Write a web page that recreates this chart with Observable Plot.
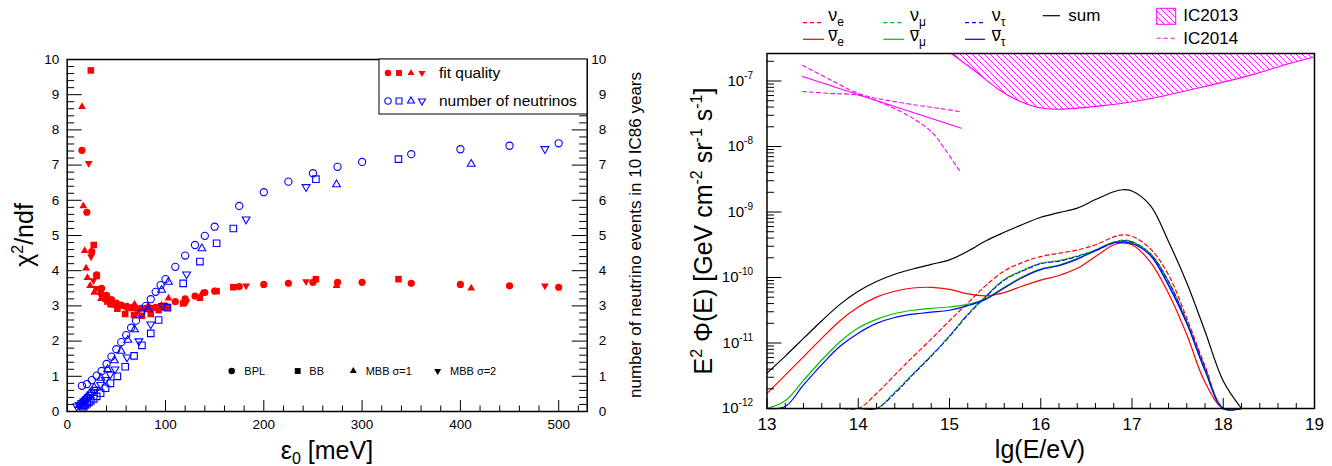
<!DOCTYPE html>
<html><head><meta charset="utf-8">
<script src="https://cdn.jsdelivr.net/npm/d3@7"></script>
<script src="https://cdn.jsdelivr.net/npm/@observablehq/plot@0.6"></script>
<style>
html,body{margin:0;padding:0;background:#fff;}
#wrap{position:relative;width:1332px;height:466px;overflow:hidden;}
#wrap svg{position:absolute;top:0;}
</style></head><body><div id="wrap"></div>
<script>
const FONT = '"Liberation Sans", Arial, Helvetica, sans-serif';

// ---------- LEFT PANEL DATA (epsilon_0 in meV) ----------
const bplX   = [15,20,25,30,35,40,45,50,55,60,65,70,75,80,85,90,95,100,110,120,130,140,150,175,200,225,250,275,300,350,400,450,500];
const bplFit = [7.42,5.66,4.54,3.88,3.50,3.30,3.18,3.08,3.02,2.98,2.95,2.93,2.93,2.93,2.94,2.96,2.98,3.00,3.12,3.20,3.28,3.38,3.42,3.55,3.61,3.64,3.67,3.67,3.67,3.64,3.61,3.57,3.53];
const bplNu  = [0.73,0.78,0.89,1.02,1.15,1.35,1.56,1.77,1.97,2.17,2.38,2.58,2.79,3.00,3.19,3.40,3.59,3.76,4.11,4.43,4.73,4.99,5.25,5.84,6.23,6.53,6.77,6.95,7.09,7.31,7.45,7.55,7.62];

const bbX   = [15.2,16.9,18.6,20.3,22,24,27,30,34,39,44,51,59,68,76,85,93,102,118,135,152,169,253,337];
const bbFit = [null,null,null,null,null,9.69,4.73,3.85,3.42,3.20,3.05,2.92,2.77,2.74,2.72,2.77,2.88,2.95,3.07,3.23,3.42,3.53,3.76,3.76];
const bbNu  = [0.14,0.17,0.19,0.22,0.26,0.30,0.36,0.43,0.52,0.66,0.80,1.00,1.27,1.58,1.88,2.22,2.60,2.95,3.64,4.26,4.78,5.20,6.60,7.17];

const mbb1X   = [12.3,13.7,15.1,16.4,17.8,19.2,20.6,23.3,27.4,34.3,41.1,48,54.8,61.7,68.5,82.2,96,103,137,274,411];
const mbb1Fit = [null,null,8.66,5.84,4.57,4.07,3.80,3.57,3.38,3.20,3.10,3.02,2.98,2.98,3.05,3.00,3.02,3.22,3.35,3.57,3.50];
const mbb1Nu  = [0.18,0.22,0.26,0.30,0.34,0.38,0.43,0.53,0.68,0.95,1.20,1.45,1.72,2.03,2.33,2.90,3.45,3.68,4.63,6.45,7.03];

const mbb2X   = [9.7,12.2,14.6,17,19.4,21.9,24.3,26.7,29.2,34,38.9,43.7,48.6,60.8,72.9,85,97.2,121.5,182,243,486];
const mbb2Fit = [null,null,null,null,null,7.05,4.40,3.72,3.50,3.30,3.15,3.07,3.00,2.92,2.88,2.86,3.02,3.12,3.57,3.69,3.57];
const mbb2Nu  = [0.15,0.19,0.24,0.29,0.35,0.42,0.48,0.55,0.62,0.76,0.90,1.05,1.20,1.54,2.00,2.48,3.00,3.90,5.46,6.38,7.46];

const leftXTicks = [0,100,200,300,400,500];
const leftYTicks = [0,1,2,3,4,5,6,7,8,9,10];
const legendModels = ["BPL","BB","MBB \u03c3=1","MBB \u03c3=2"];

// ---------- RIGHT PANEL DATA (lg E vs log10 of E^2 Phi) ----------
const lgE = [13.0,13.2,13.4,13.6,13.8,14.0,14.2,14.4,14.6,14.8,15.0,15.2,15.4,15.6,15.8,16.0,16.2,16.4,16.6,16.8,16.9,17.0,17.2,17.4,17.6,17.8,18.0,18.2];
const sumLog      = [-11.46,-11.20,-10.93,-10.66,-10.41,-10.21,-10.06,-9.95,-9.87,-9.80,-9.73,-9.60,-9.44,-9.31,-9.19,-9.08,-9.01,-8.94,-8.81,-8.69,-8.66,-8.68,-8.90,-9.45,-10.08,-10.82,-11.58,-12.3];
const nuEbarLog   = [-11.77,-11.49,-11.21,-10.93,-10.66,-10.45,-10.30,-10.21,-10.16,-10.15,-10.18,-10.25,-10.28,-10.23,-10.13,-10.04,-9.97,-9.86,-9.68,-9.50,-9.47,-9.50,-9.76,-10.24,-10.87,-11.60,-12.3,-13.5];
const nuELog      = [-13.8,-13.5,-13.2,-12.9,-12.3,-12.03,-11.77,-11.49,-11.21,-10.94,-10.66,-10.39,-10.12,-9.90,-9.77,-9.68,-9.63,-9.58,-9.50,-9.38,-9.35,-9.37,-9.56,-9.96,-10.62,-11.35,-12.2,-13.5];
const nuMubarLog  = [-12.4,-11.88,-11.57,-11.26,-10.98,-10.77,-10.64,-10.55,-10.50,-10.47,-10.45,-10.41,-10.32,-10.15,-9.99,-9.87,-9.81,-9.71,-9.58,-9.46,-9.45,-9.47,-9.65,-10.11,-10.69,-11.41,-12.1,-13.5];
const nuTaubarLog = [-12.5,-11.97,-11.64,-11.33,-11.05,-10.85,-10.70,-10.61,-10.56,-10.53,-10.50,-10.43,-10.33,-10.16,-10.00,-9.88,-9.82,-9.72,-9.59,-9.47,-9.46,-9.48,-9.66,-10.12,-10.70,-11.42,-12.1,-13.5];
const nuMuLog     = [-14,-13.7,-13.4,-13.1,-12.8,-12.4,-12.03,-11.75,-11.47,-11.19,-10.89,-10.56,-10.28,-10.03,-9.89,-9.78,-9.74,-9.67,-9.58,-9.46,-9.43,-9.45,-9.63,-10.06,-10.68,-11.40,-12.2,-13.5];
const nuTauLog    = [-14,-13.7,-13.4,-13.1,-12.8,-12.42,-12.05,-11.77,-11.48,-11.20,-10.90,-10.57,-10.29,-10.04,-9.90,-9.79,-9.75,-9.68,-9.59,-9.47,-9.44,-9.46,-9.64,-10.06,-10.67,-11.38,-12.2,-13.5];

const ic13Lg  = [15.02,15.3,15.55,15.74,15.96,16.18,16.65,17.2,17.75,18.3,18.66,19.0];
const ic13Log = [-6.58,-6.87,-7.14,-7.29,-7.40,-7.43,-7.38,-7.27,-7.10,-6.91,-6.76,-6.63];
const ic14MidLg = [13.39,15.13];
const ic14MidLog = [-6.93,-7.72];
const ic14UpLg  = [13.39,13.72,14.02,14.3,14.6,14.9,15.13];
const ic14UpLog = [-6.76,-7.00,-7.20,-7.29,-7.36,-7.42,-7.47];
const ic14LoLg  = [13.39,13.7,14.02,14.3,14.6,14.82,14.94,15.12];
const ic14LoLog = [-7.16,-7.19,-7.22,-7.36,-7.57,-7.80,-8.02,-8.39];

const rightXTicks = [13,14,15,16,17,18,19];
const rightYDecades = [-12,-11,-10,-9,-8,-7];
const rightYTopLog = -6.58;

// ---------- helpers ----------
const sqrt3 = Math.sqrt(3);
const triangleDown = {draw(ctx, size){ const y = -Math.sqrt(size/(sqrt3*3)); ctx.moveTo(0,-y*2); ctx.lineTo(-sqrt3*y, y); ctx.lineTo(sqrt3*y, y); ctx.closePath(); }};
const rows = (xs, ys) => xs.map((x,i)=>({x, y: ys[i]})).filter(d => d.y != null);
const series = [
  {x: bplX, fit: bplFit, nu: bplNu, symbol: "circle", d3s: d3.symbolCircle, r: 3.6},
  {x: bbX, fit: bbFit, nu: bbNu, symbol: "square", d3s: d3.symbolSquare, r: 3.7},
  {x: mbb1X, fit: mbb1Fit, nu: mbb1Nu, symbol: "triangle", d3s: d3.symbolTriangle, r: 2.9},
  {x: mbb2X, fit: mbb2Fit, nu: mbb2Nu, symbol: triangleDown, d3s: triangleDown, r: 2.9}
];

// ---------- LEFT PLOT ----------
const LW = 666, LH = 466, Lml = 66.7, Lmr = 79.3, Lmt = 59, Lmb = 55;
const LiW = LW - Lml - Lmr, LiH = LH - Lmt - Lmb;
const lxMinor = d3.range(1, 27).map(i => i*20).filter(v => v % 100 !== 0);
const lyMinor = d3.range(1, 50).map(i => i/5).filter(v => !Number.isInteger(v));

const leftMarks = [
  Plot.tickX(leftXTicks, {insetTop: LiH - 11, stroke: "black"}),
  Plot.tickX(lxMinor, {insetTop: LiH - 5.5, stroke: "black"}),
  Plot.tickY(leftYTicks, {insetRight: LiW - 15, stroke: "black"}),
  Plot.tickY(lyMinor, {insetRight: LiW - 7.5, stroke: "black"}),
  Plot.tickY(leftYTicks, {insetLeft: LiW - 15, stroke: "black"}),
  Plot.tickY(lyMinor, {insetLeft: LiW - 7.5, stroke: "black"}),
  Plot.axisX({ticks: leftXTicks, tickSize: 0, tickPadding: 8, label: null, fontSize: 13.5}),
  Plot.axisY({anchor: "left", ticks: leftYTicks, tickSize: 0, tickPadding: 8, label: null, fontSize: 13.5}),
  Plot.axisY({anchor: "right", ticks: leftYTicks, tickSize: 0, tickPadding: 19, textAnchor: "end", label: null, fontSize: 13.5}),
];
for (const s of series) leftMarks.push(Plot.dot(rows(s.x, s.fit), {x: "x", y: "y", symbol: s.symbol, r: s.r, fill: "#ff0000", stroke: "none"}));
for (const s of series) leftMarks.push(Plot.dot(rows(s.x, s.nu), {x: "x", y: "y", symbol: s.symbol, r: s.r, fill: "none", stroke: "#0000ff", strokeWidth: 1.1}));
leftMarks.push(Plot.frame({stroke: "black", strokeWidth: 1.5}));

const left = Plot.plot({
  width: LW, height: LH, marginLeft: Lml, marginRight: Lmr, marginTop: Lmt, marginBottom: Lmb,
  x: {domain: [0, 529]}, y: {domain: [0, 10]},
  style: {fontFamily: FONT, fontSize: "13.5px", background: "transparent", color: "black", overflow: "visible"},
  marks: leftMarks
});
left.style.left = "0px";
document.getElementById("wrap").appendChild(left);

{
  const g = d3.select(left).append("g").attr("font-family", FONT).attr("fill", "black").attr("text-anchor", "start");
  // legend box
  g.append("rect").attr("x", 379).attr("y", 59).attr("width", 208).attr("height", 55).attr("fill", "white").attr("stroke", "black").attr("stroke-width", 1);
  const lx = [388, 399, 411, 422];
  series.forEach((s, i) => {
    const size = Math.PI * (s.r*0.9) ** 2;
    g.append("path").attr("d", d3.symbol(s.d3s, size)()).attr("transform", `translate(${lx[i]},73)`).attr("fill", "#ff0000");
    g.append("path").attr("d", d3.symbol(s.d3s, size)()).attr("transform", `translate(${lx[i]},101)`).attr("fill", "none").attr("stroke", "#0000ff").attr("stroke-width", 1.1);
  });
  g.append("text").attr("x", 439).attr("y", 73).attr("dy", "0.35em").attr("font-size", 15.5).text("fit quality");
  g.append("text").attr("x", 439).attr("y", 101).attr("dy", "0.35em").attr("font-size", 15.5).text("number of neutrinos");
  // model legend
  const mx = [231.7, 297.7, 353.3, 437.7], tx = [244.3, 309.3, 365.7, 450];
  series.forEach((s, i) => {
    g.append("path").attr("d", d3.symbol(s.d3s, Math.PI * (s.r*0.9) ** 2)()).attr("transform", `translate(${mx[i]},371)`).attr("fill", "black");
    g.append("text").attr("x", tx[i]).attr("y", 371).attr("dy", "0.35em").attr("font-size", 11).text(legendModels[i]);
  });
  // axis titles
  const yl = g.append("text").attr("transform", "translate(33,235) rotate(-90)").attr("text-anchor", "middle").attr("font-size", 25);
  yl.append("tspan").text("\u03c7");
  yl.append("tspan").attr("dy", -10).attr("font-size", 16).text("2");
  yl.append("tspan").attr("dy", 10).text("/ndf");
  const xl = g.append("text").attr("x", 327).attr("y", 459).attr("text-anchor", "middle").attr("font-size", 25);
  xl.append("tspan").text("\u03b5");
  xl.append("tspan").attr("dy", 5).attr("font-size", 16).text("0");
  xl.append("tspan").attr("dy", -5).text(" [meV]");
  g.append("text").attr("transform", "translate(641,235) rotate(-90)").attr("text-anchor", "middle").attr("font-size", 17).text("number of neutrino events in 10 IC86 years");
}

// ---------- RIGHT PLOT ----------
const RW = 666, RH = 466, Rml = 100.5, Rmr = 18, Rmt = 53, Rmb = 58;
const RiW = RW - Rml - Rmr, RiH = RH - Rmt - Rmb;
const yTop = Math.pow(10, rightYTopLog);
const decadeVals = rightYDecades.map(e => Math.pow(10, e));
const minorVals = [];
for (const e of rightYDecades) for (let k = 2; k <= 9; k++) { const v = k * Math.pow(10, e); if (v <= yTop) minorVals.push(v); }
const rxMinor = d3.range(66, 95).map(i => i/5).filter(v => Math.abs(v - Math.round(v)) > 1e-9);
const curveRows = logs => lgE.map((lg, i) => ({lg, v: Math.pow(10, logs[i])}));
const pairRows = (xs, logs) => xs.map((lg, i) => ({lg, v: Math.pow(10, logs[i])}));
const MAG = "#ff00ff";
const CURVE = "catmull-rom";

const right = Plot.plot({
  width: RW, height: RH, marginLeft: Rml, marginRight: Rmr, marginTop: Rmt, marginBottom: Rmb,
  x: {domain: [13, 19]},
  y: {type: "log", domain: [1e-12, yTop], clamp: true},
  style: {fontFamily: FONT, fontSize: "16px", background: "transparent", color: "black", overflow: "visible"},
  marks: [
    Plot.areaY(pairRows(ic13Lg, ic13Log), {x: "lg", y1: "v", y2: () => yTop, fill: "url(#hatch13)", curve: CURVE}),
    Plot.line(pairRows(ic13Lg, ic13Log), {x: "lg", y: "v", stroke: MAG, strokeWidth: 1.1, curve: CURVE}),
    Plot.line(pairRows(ic14MidLg, ic14MidLog), {x: "lg", y: "v", stroke: MAG, strokeWidth: 1.1}),
    Plot.line(pairRows(ic14UpLg, ic14UpLog), {x: "lg", y: "v", stroke: MAG, strokeWidth: 1.1, strokeDasharray: "4,3", curve: CURVE}),
    Plot.line(pairRows(ic14LoLg, ic14LoLog), {x: "lg", y: "v", stroke: MAG, strokeWidth: 1.1, strokeDasharray: "4,3", curve: CURVE}),
    Plot.line(curveRows(nuELog), {x: "lg", y: "v", stroke: "#ff0000", strokeWidth: 1.2, strokeDasharray: "4,3", curve: CURVE}),
    Plot.line(curveRows(nuMuLog), {x: "lg", y: "v", stroke: "#00c000", strokeWidth: 1.2, strokeDasharray: "4,3", curve: CURVE}),
    Plot.line(curveRows(nuTauLog), {x: "lg", y: "v", stroke: "#0000ff", strokeWidth: 1.2, strokeDasharray: "4,3", strokeDashoffset: 3.5, curve: CURVE}),
    Plot.line(curveRows(nuEbarLog), {x: "lg", y: "v", stroke: "#ff0000", strokeWidth: 1.2, curve: CURVE}),
    Plot.line(curveRows(nuMubarLog), {x: "lg", y: "v", stroke: "#00c000", strokeWidth: 1.2, curve: CURVE}),
    Plot.line(curveRows(nuTaubarLog), {x: "lg", y: "v", stroke: "#0000ff", strokeWidth: 1.2, curve: CURVE}),
    Plot.line(curveRows(sumLog), {x: "lg", y: "v", stroke: "black", strokeWidth: 1.2, curve: CURVE}),
    Plot.tickX(rightXTicks, {insetTop: RiH - 10, stroke: "black"}),
    Plot.tickX(rxMinor, {insetTop: RiH - 5, stroke: "black"}),
    Plot.tickY(decadeVals, {insetRight: RiW - 15, stroke: "black"}),
    Plot.tickY(minorVals, {insetRight: RiW - 7.5, stroke: "black"}),
    Plot.axisX({ticks: rightXTicks, tickSize: 0, tickPadding: 9, label: null, fontSize: 17, tickFormat: d => String(d)}),
    Plot.axisY({ticks: decadeVals, tickSize: 0, tickPadding: 14, label: null, fontSize: 15, tickFormat: d => "10^" + Math.round(Math.log10(d))}),
    Plot.frame({stroke: "black", strokeWidth: 1.5})
  ]
});
right.style.left = "666px";
document.getElementById("wrap").appendChild(right);

{
  const svg = d3.select(right);
  const defs = svg.insert("defs", ":first-child");
  const pat = defs.append("pattern").attr("id", "hatch13").attr("patternUnits", "userSpaceOnUse").attr("width", 6).attr("height", 6);
  pat.append("path").attr("d", "M-1,-1L7,7M-1,5L1,7M5,-1L7,1").attr("stroke", MAG).attr("stroke-width", 0.9).attr("fill", "none");
  // superscript tick labels
  svg.selectAll('g[aria-label="y-axis tick label"] text').each(function() {
    const m = (this.textContent || "").match(/^10\^(-?\d+)$/);
    if (!m) return;
    const t = d3.select(this); t.text(null);
    t.append("tspan").text("10");
    t.append("tspan").attr("dy", -7).attr("font-size", 10).text(m[1]);
  });
  const g = svg.append("g").attr("font-family", FONT).attr("fill", "black").attr("text-anchor", "start");
  // legend
  const cols = [
    {x1: 137, x2: 158, tx: 162.3, c: "#ff0000", sub: "e"},
    {x1: 217.3, x2: 238, tx: 244, c: "#00c000", sub: "\u03bc"},
    {x1: 299, x2: 319, tx: 325.7, c: "#0000ff", sub: "\u03c4"}
  ];
  for (const c of cols) {
    g.append("line").attr("x1", c.x1).attr("x2", c.x2).attr("y1", 22.7).attr("y2", 22.7).attr("stroke", c.c).attr("stroke-width", 1.2).attr("stroke-dasharray", "4,3");
    g.append("line").attr("x1", c.x1).attr("x2", c.x2).attr("y1", 39.3).attr("y2", 39.3).attr("stroke", c.c).attr("stroke-width", 1.2);
    const t1 = g.append("text").attr("x", c.tx).attr("y", 21).attr("font-size", 18);
    t1.append("tspan").text("\u03bd");
    t1.append("tspan").attr("dy", 5).attr("font-size", 12).text(c.sub);
    const t2 = g.append("text").attr("x", c.tx).attr("y", 41).attr("font-size", 18);
    t2.append("tspan").text("\u03bd");
    t2.append("tspan").attr("dy", 5).attr("font-size", 12).text(c.sub);
    g.append("line").attr("x1", c.tx + 0.5).attr("x2", c.tx + 9.5).attr("y1", 30.5).attr("y2", 30.5).attr("stroke", "black").attr("stroke-width", 1.1);
  }
  g.append("line").attr("x1", 376.7).attr("x2", 394).attr("y1", 15.7).attr("y2", 15.7).attr("stroke", "black").attr("stroke-width", 1.2);
  g.append("text").attr("x", 402.3).attr("y", 21).attr("font-size", 17).text("sum");
  g.append("rect").attr("x", 490.7).attr("y", 8.3).attr("width", 19).attr("height", 16).attr("fill", "url(#hatch13)").attr("stroke", MAG).attr("stroke-width", 1);
  g.append("text").attr("x", 517.3).attr("y", 21).attr("font-size", 17).text("IC2013");
  g.append("line").attr("x1", 490.7).attr("x2", 509.7).attr("y1", 38.3).attr("y2", 38.3).attr("stroke", MAG).attr("stroke-width", 1.1).attr("stroke-dasharray", "4,3");
  g.append("text").attr("x", 517.3).attr("y", 43.5).attr("font-size", 17).text("IC2014");
  // axis titles
  g.append("text").attr("x", 374).attr("y", 458).attr("text-anchor", "middle").attr("font-size", 25).text("lg(E/eV)");
  const yl = g.append("text").attr("transform", "translate(46,231) rotate(-90)").attr("text-anchor", "middle").attr("font-size", 25);
  yl.append("tspan").text("E");
  yl.append("tspan").attr("dy", -10).attr("font-size", 16).text("2");
  yl.append("tspan").attr("dy", 10).text(" \u03a6(E) [GeV cm");
  yl.append("tspan").attr("dy", -10).attr("font-size", 16).text("-2");
  yl.append("tspan").attr("dy", 10).text(" sr");
  yl.append("tspan").attr("dy", -10).attr("font-size", 16).text("-1");
  yl.append("tspan").attr("dy", 10).text(" s");
  yl.append("tspan").attr("dy", -10).attr("font-size", 16).text("-1");
  yl.append("tspan").attr("dy", 10).text("]");
}
</script></body></html>
